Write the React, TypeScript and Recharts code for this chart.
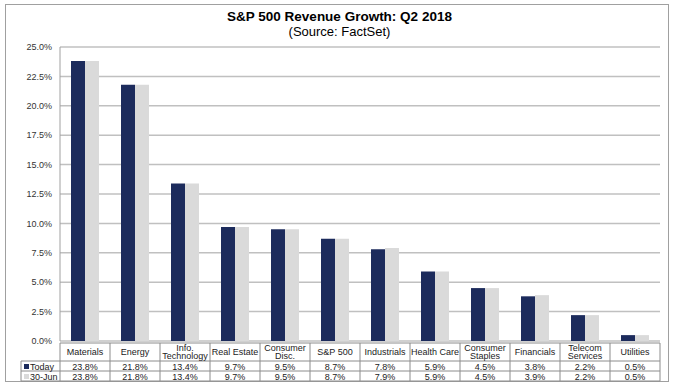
import { BarChart, Bar, XAxis, YAxis, CartesianGrid } from "recharts";

const CATEGORIES = [
  "Materials",
  "Energy",
  "Info.\nTechnology",
  "Real Estate",
  "Consumer\nDisc.",
  "S&P 500",
  "Industrials",
  "Health Care",
  "Consumer\nStaples",
  "Financials",
  "Telecom\nServices",
  "Utilities",
];
const TODAY = [23.8, 21.8, 13.4, 9.7, 9.5, 8.7, 7.8, 5.9, 4.5, 3.8, 2.2, 0.5];
const JUN30 = [23.8, 21.8, 13.4, 9.7, 9.5, 8.7, 7.9, 5.9, 4.5, 3.9, 2.2, 0.5];
const Y_TICKS = [0, 2.5, 5, 7.5, 10, 12.5, 15, 17.5, 20, 22.5, 25];
const SERIES = [
  { key: "today", label: "Today", values: TODAY },
  { key: "jun30", label: "30-Jun", values: JUN30 },
];

const NAVY = "#1c2b5c";
const GREY = "#dadada";
const LINE = "#8c8c8c";
const FONT = "'Liberation Sans', Arial, sans-serif";

const data = CATEGORIES.map((name, i) => ({
  name,
  today: TODAY[i],
  jun30: JUN30[i],
}));

const pct = (v: number) => `${v.toFixed(1)}%`;

function TableTick(props: any) {
  const { x, y, index, visibleTicksCount } = props;
  const cw = props.width && visibleTicksCount ? props.width / visibleTicksCount : 50;
  const left = x - cw / 2;
  const right = x + cw / 2;
  const catH = 18;
  const rowH = 10;
  const lines = CATEGORIES[index].split("\n");
  const txt = { fontFamily: FONT, fontSize: 9, fill: "#222", textAnchor: "middle" as const };

  return (
    <g>
      <line x1={left} x2={right} y1={y} y2={y} stroke={LINE} />
      <line x1={left} x2={right} y1={y + catH} y2={y + catH} stroke={LINE} />
      <line x1={left} x2={right} y1={y + catH + rowH} y2={y + catH + rowH} stroke={LINE} />
      <line x1={left} x2={right} y1={y + catH + 2 * rowH} y2={y + catH + 2 * rowH} stroke={LINE} />
      <line x1={right} x2={right} y1={y} y2={y + catH + 2 * rowH} stroke={LINE} />
      {index === 0 && (
        <g>
          <line x1={left} x2={left} y1={y} y2={y + catH + 2 * rowH} stroke={LINE} />
          <line x1={21} x2={left} y1={y + catH} y2={y + catH} stroke={LINE} />
          <line x1={21} x2={left} y1={y + catH + rowH} y2={y + catH + rowH} stroke={LINE} />
          <line x1={21} x2={left} y1={y + catH + 2 * rowH} y2={y + catH + 2 * rowH} stroke={LINE} />
          <line x1={21} x2={21} y1={y + catH} y2={y + catH + 2 * rowH} stroke={LINE} />
          {SERIES.map((s, r) => (
            <g key={s.key}>
              <rect
                x={24}
                y={y + catH + r * rowH + 3}
                width={5}
                height={5}
                fill={r === 0 ? NAVY : GREY}
              />
              <text
                x={30}
                y={y + catH + r * rowH + 8.5}
                fontFamily={FONT}
                fontSize={9}
                fill="#222"
              >
                {s.label}
              </text>
            </g>
          ))}
        </g>
      )}
      {lines.map((ln, k) => (
        <text
          key={k}
          x={x}
          y={lines.length === 1 ? y + 12 : y + 7.5 + k * 8.5}
          {...txt}
        >
          {ln}
        </text>
      ))}
      {SERIES.map((s, r) => (
        <text key={s.key} x={x} y={y + catH + r * rowH + 8.5} {...txt}>
          {pct(s.values[index])}
        </text>
      ))}
    </g>
  );
}

export default function App() {
  return (
    <div style={{ position: "absolute", left: 0, top: 0, width: 679, height: 390, background: "#fff" }}>
      <div
        style={{
          position: "absolute",
          left: 5,
          top: 4,
          width: 664,
          height: 378,
          border: "1.5px solid #a0a0a0",
          boxSizing: "border-box",
        }}
      />
      <div
        style={{
          position: "absolute",
          left: 0,
          width: 679,
          top: 9,
          textAlign: "center",
          fontFamily: FONT,
          color: "#000",
          lineHeight: "15px",
        }}
      >
        <div style={{ fontSize: 13.5, fontWeight: "bold" }}>S&amp;P 500 Revenue Growth: Q2 2018</div>
        <div style={{ fontSize: 13 }}>(Source: FactSet)</div>
      </div>
      <BarChart
        width={679}
        height={390}
        data={data}
        margin={{ top: 47, right: 19, bottom: 0, left: 0 }}
        barGap={0}
        barSize={14}
        style={{ position: "absolute", left: 0, top: 0 }}
      >
        <CartesianGrid vertical={false} stroke="#c0c0c0" strokeWidth={1.5} />
        <XAxis
          dataKey="name"
          height={49}
          tickSize={0}
          tickLine={false}
          axisLine={false}
          interval={0}
          tick={<TableTick />}
        />
        <YAxis
          width={60}
          domain={[0, 25]}
          ticks={Y_TICKS}
          tickFormatter={pct}
          tickLine={false}
          axisLine={{ stroke: "#a0a0a0" }}
          tick={{ fontSize: 9, fill: "#333", fontFamily: FONT }}
          tickMargin={2}
        />
        <Bar dataKey="today" fill={NAVY} isAnimationActive={false} />
        <Bar dataKey="jun30" fill={GREY} isAnimationActive={false} />
      </BarChart>
    </div>
  );
}
